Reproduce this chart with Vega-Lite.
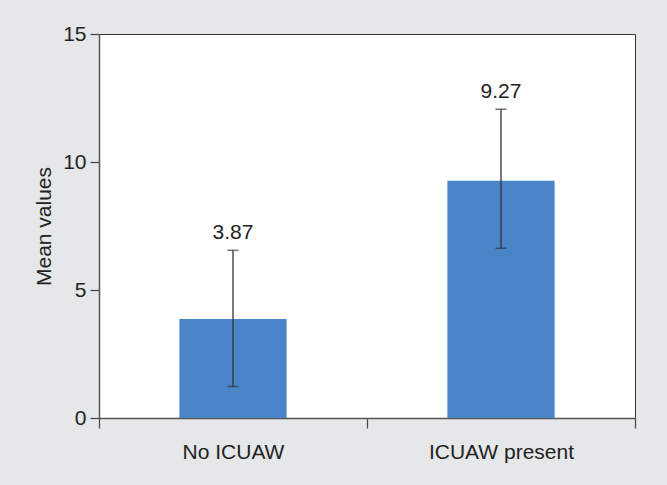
{
  "$schema": "https://vega.github.io/schema/vega-lite/v6.json",
  "autosize": "none",
  "width": 536,
  "height": 384,
  "padding": {"left": 99, "top": 34, "right": 32, "bottom": 67},
  "background": "#e6e7e9",
  "config": {
    "font": "Liberation Sans",
    "view": {"stroke": "#333333", "strokeWidth": 1, "fill": "white"},
    "axis": {
      "grid": false,
      "labelFont": "Liberation Sans",
      "titleFont": "Liberation Sans",
      "labelFontSize": 21,
      "titleFontSize": 21,
      "labelColor": "#222222",
      "titleColor": "#222222",
      "titleFontWeight": "normal",
      "domainColor": "#555555",
      "tickColor": "#444444",
      "domainWidth": 1.5,
      "tickWidth": 1.2
    }
  },
  "data": {
    "values": [
      {"group": "No ICUAW", "mean": 3.87, "low": 1.23, "high": 6.55},
      {"group": "ICUAW present", "mean": 9.27, "low": 6.63, "high": 12.06}
    ]
  },
  "encoding": {
    "x": {
      "field": "group",
      "type": "nominal",
      "sort": null,
      "scale": {"paddingInner": 0, "paddingOuter": 0},
      "axis": {
        "title": null,
        "labelAngle": 0,
        "tickBand": "extent",
        "tickSize": 10,
        "labelPadding": 13
      }
    }
  },
  "layer": [
    {
      "mark": {"type": "bar", "color": "#4a86c7", "width": {"band": 0.4}},
      "encoding": {
        "y": {
          "field": "mean",
          "type": "quantitative",
          "scale": {"domain": [0, 15], "nice": false},
          "axis": {
            "title": "Mean values",
            "values": [0, 5, 10, 15],
            "tickSize": 9,
            "labelPadding": 4,
            "titlePadding": 8
          }
        }
      }
    },
    {
      "mark": {"type": "rule", "color": "#333333", "strokeWidth": 1.3},
      "encoding": {
        "y": {"field": "low", "type": "quantitative"},
        "y2": {"field": "high"}
      }
    },
    {
      "mark": {"type": "tick", "color": "#333333", "size": 11, "thickness": 1.5},
      "encoding": {"y": {"field": "low", "type": "quantitative"}}
    },
    {
      "mark": {"type": "tick", "color": "#333333", "size": 11, "thickness": 1.5},
      "encoding": {"y": {"field": "high", "type": "quantitative"}}
    },
    {
      "mark": {"type": "text", "fontSize": 21, "color": "#222222", "baseline": "bottom", "dy": -7},
      "encoding": {
        "y": {"field": "high", "type": "quantitative"},
        "text": {"field": "mean", "type": "quantitative", "format": ".2f"}
      }
    }
  ]
}
